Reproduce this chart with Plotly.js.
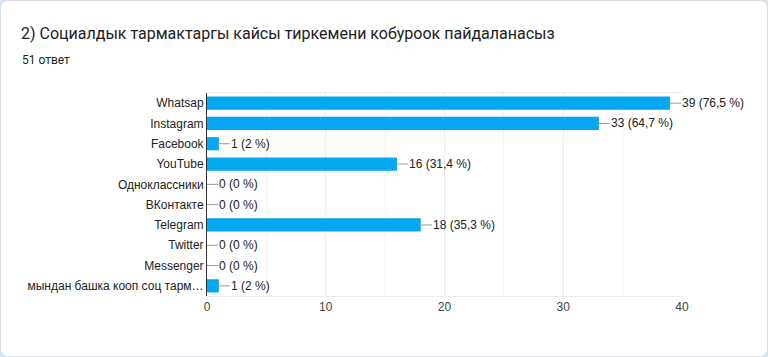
<!DOCTYPE html>
<html>
<head>
<meta charset="utf-8">
<script src="https://cdn.plot.ly/plotly-3.0.1.min.js"></script>
<style>
html,body{margin:0;padding:0;background:#d4e6f4;}
#card{position:absolute;left:0;top:0;width:768px;height:357px;box-sizing:border-box;border:1px solid #dadce0;border-radius:8px;background:#fff;}
#chart{position:absolute;left:0;top:0;width:768px;height:357px;}
</style>
</head>
<body>
<div id="card"></div>
<div id="chart"></div>
<script>
const categories = ["Whatsap","Instagram","Facebook","YouTube","Одноклассники","ВКонтакте","Telegram","Twitter","Messenger","мындан башка кооп соц тарм…"];
const counts = [39,33,1,16,0,0,18,0,0,1];
const percents = ["76,5","64,7","2","31,4","0","0","35,3","0","0","2"];
const xTicks = [0,10,20,30,40];

const annotations = categories.map((c,i)=>({
  x: counts[i], y: c, xref:'x', yref:'y',
  text: counts[i] + ' (' + percents[i] + ' %)',
  showarrow: true, arrowhead: 0, arrowwidth: 1, arrowcolor: '#999',
  ax: 11, ay: 0, xanchor: 'left', yanchor: 'middle',
  standoff: 0, startstandoff: 0, borderpad: 0,
  font: {family: 'Liberation Sans, Arial, sans-serif', size: 12, color: '#222'}
}));
annotations.push({
  xref:'paper', yref:'paper', x: -187/475, y: 1 + 33/203, xanchor:'left', yanchor:'middle',
  text: '51 ответ', showarrow:false,
  font:{family:'Roboto, sans-serif', size:12, color:'#202124'}
});

const trace = {
  type: 'bar', orientation: 'h',
  x: counts, y: categories,
  marker: {color: '#05a8f0'},
  hoverinfo: 'none'
};

const layout = {
  width: 768, height: 357,
  margin: {l: 207, r: 86, t: 93, b: 61},
  paper_bgcolor: 'rgba(0,0,0,0)', plot_bgcolor: '#fff',
  bargap: 0.35,
  showlegend: false,
  title: {text: '2) Социалдык тармактаргы кайсы тиркемени кобуроок пайдаланасыз',
    x: 21/768, xanchor: 'left', xref: 'container', y: 1 - 33/357, yanchor: 'middle', yref: 'container',
    font: {family: 'Roboto, sans-serif', size: 16, color: '#202124'}},
  xaxis: {range: [0,40], tickvals: xTicks, ticktext: xTicks.map(String),
    showgrid: true, gridcolor: '#ececec', gridwidth: 1,
    minor: {dtick: 5, tick0: 0, showgrid: true, gridcolor: '#f3f3f3'},
    zeroline: false, showline: true, linecolor: '#ececec', mirror: true,
    ticks: '', tickfont: {family: 'Liberation Sans, Arial, sans-serif', size: 12, color: '#444'}, fixedrange: true},
  yaxis: {type: 'category', autorange: 'reversed', showgrid: false, zeroline: false,
    showline: true, linecolor: '#333', linewidth: 1, ticks: '', ticklabelstandoff: 0,
    tickfont: {family: 'Liberation Sans, Arial, sans-serif', size: 12, color: '#222'}, fixedrange: true},
  annotations: annotations
};

Plotly.newPlot('chart', [trace], layout, {displayModeBar: false, staticPlot: true});
</script>
</body>
</html>
